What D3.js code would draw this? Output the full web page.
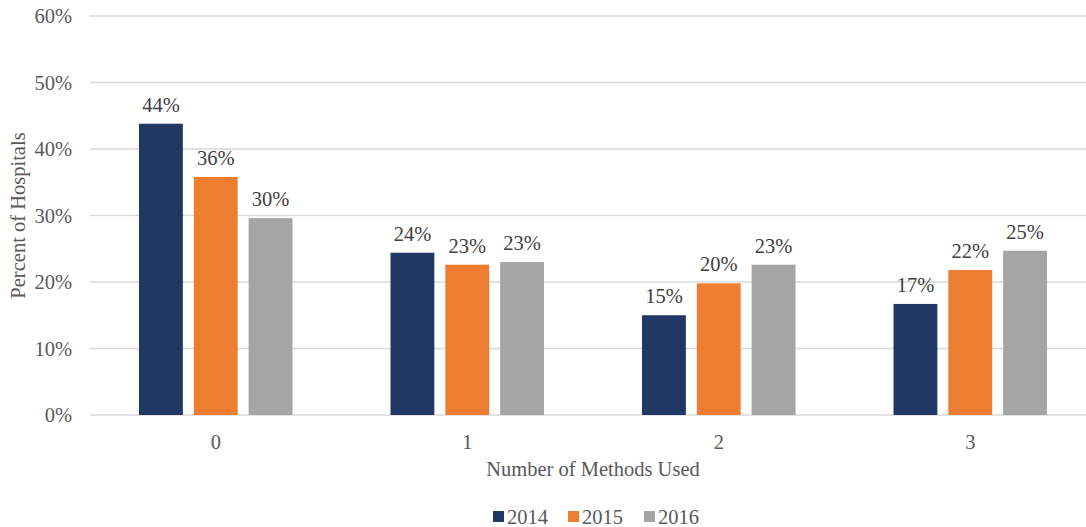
<!DOCTYPE html>
<html>
<head>
<meta charset="utf-8">
<script src="https://cdn.jsdelivr.net/npm/d3@7"></script>
<style>
  body { margin: 0; background: #fff; }
  text { font-family: "Liberation Serif", "Times New Roman", serif; }
</style>
</head>
<body>
<script>
const categories = ['0', '1', '2', '3'];
const years = ['2014', '2015', '2016'];
const values2014 = [43.8, 24.4, 15.0, 16.7];
const values2015 = [35.8, 22.6, 19.8, 21.8];
const values2016 = [29.6, 23.0, 22.6, 24.7];
const labels2014 = ['44%', '24%', '15%', '17%'];
const labels2015 = ['36%', '23%', '20%', '22%'];
const labels2016 = ['30%', '23%', '23%', '25%'];
const yTicks = [0, 10, 20, 30, 40, 50, 60];
const colors = ['#203864', '#ED7D31', '#A5A5A5'];

const series = [values2014, values2015, values2016];
const labels = [labels2014, labels2015, labels2016];

const FS = 20.5;
const W = 1086, H = 527;
const margin = { top: 16, right: -10, bottom: 112, left: 90 };
const width = W - margin.left - margin.right;
const height = H - margin.top - margin.bottom;

const svg = d3.select('body')
  .append('svg')
  .attr('width', W)
  .attr('height', H);

const g = svg.append('g')
  .attr('transform', `translate(${margin.left},${margin.top})`);

const x0 = d3.scaleBand()
  .domain(categories)
  .range([0, width])
  .paddingInner(0)
  .paddingOuter(0);

const x1 = d3.scaleBand()
  .domain(years)
  .range([49, x0.bandwidth() - 49])
  .paddingInner(0.2);

const y = d3.scaleLinear()
  .domain([0, 60])
  .range([height, 0]);

// gridlines
g.selectAll('.grid')
  .data(yTicks)
  .enter()
  .append('line')
  .attr('x1', 0)
  .attr('x2', W)
  .attr('y1', d => y(d))
  .attr('y2', d => y(d))
  .attr('stroke', '#d9d9d9')
  .attr('stroke-width', 1.3);

const yAxis = d3.axisLeft(y)
  .tickValues(yTicks)
  .tickFormat(d => d + '%')
  .tickSize(0)
  .tickPadding(18);

g.append('g')
  .call(yAxis)
  .attr('font-family', null)
  .attr('font-size', null)
  .call(s => s.select('.domain').remove())
  .selectAll('text')
  .attr('font-size', FS)
  .attr('fill', '#595959');

const xAxis = d3.axisBottom(x0)
  .tickSize(0)
  .tickPadding(19);

g.append('g')
  .attr('transform', `translate(0,${height})`)
  .call(xAxis)
  .attr('font-family', null)
  .attr('font-size', null)
  .call(s => s.select('.domain').remove())
  .selectAll('text')
  .attr('font-size', FS)
  .attr('fill', '#595959');

// bars
years.forEach((yr, i) => {
  g.selectAll('.bar' + yr)
    .data(categories)
    .enter()
    .append('rect')
    .attr('x', (c) => x0(c) + x1(yr))
    .attr('y', (c, j) => y(series[i][j]))
    .attr('width', x1.bandwidth())
    .attr('height', (c, j) => height - y(series[i][j]))
    .attr('fill', colors[i]);

  g.selectAll('.lab' + yr)
    .data(categories)
    .enter()
    .append('text')
    .attr('x', (c) => x0(c) + x1(yr) + x1.bandwidth() / 2)
    .attr('y', (c, j) => y(series[i][j]) - 12)
    .attr('text-anchor', 'middle')
    .attr('font-size', FS)
    .attr('fill', '#404040')
    .text((c, j) => labels[i][j]);
});

// axis titles
svg.append('text')
  .attr('x', 593)
  .attr('y', 476)
  .attr('text-anchor', 'middle')
  .attr('font-size', FS)
  .attr('fill', '#595959')
  .text('Number of Methods Used');

svg.append('text')
  .attr('transform', `translate(25,${margin.top + height / 2}) rotate(-90)`)
  .attr('text-anchor', 'middle')
  .attr('font-size', FS)
  .attr('fill', '#595959')
  .text('Percent of Hospitals');

// legend
const legendX = [493, 568, 644];
const legend = svg.append('g');
years.forEach((yr, i) => {
  legend.append('rect')
    .attr('x', legendX[i])
    .attr('y', 511)
    .attr('width', 11)
    .attr('height', 11)
    .attr('fill', colors[i]);
  legend.append('text')
    .attr('x', legendX[i] + 14)
    .attr('y', 524)
    .attr('font-size', FS)
    .attr('fill', '#595959')
    .text(yr);
});
</script>
</body>
</html>
